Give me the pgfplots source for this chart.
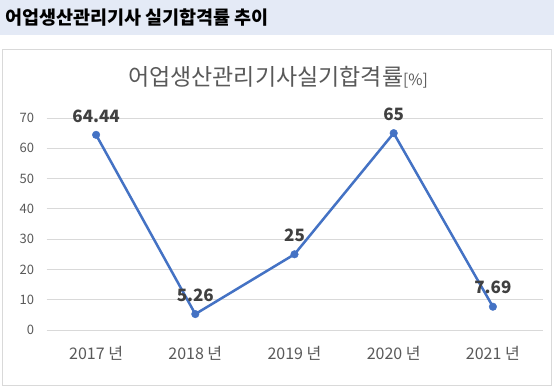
\documentclass[border=0pt]{standalone}
\usepackage{fontspec}
\setmainfont{Noto Sans CJK KR}
\usepackage{pgfplots}
\pgfplotsset{compat=1.18}
\definecolor{hdr}{HTML}{E4EAF6}
\definecolor{ln}{HTML}{4472C4}
\definecolor{txt}{HTML}{595959}
\definecolor{lbl}{HTML}{404040}
\definecolor{grd}{HTML}{D9D9D9}
\begin{document}
\begin{tikzpicture}[x=1pt,y=1pt]
\fill[white] (0,0) rectangle (554,-389);
\fill[hdr] (0,0) rectangle (554,-35);
\node[anchor=west,inner sep=0pt,font=\fontsize{18.5}{22}\selectfont\bfseries] at (5,-18) {어업생산관리기사 실기합격률 추이};
\draw[grd, line width=0.8pt] (2.5,-49.5) rectangle (551.5,-385.5);
\node[text=txt, inner sep=0pt, font=\fontsize{23}{27}\selectfont] at (278,-77) {어업생산관리기사실기합격률{\fontsize{15.5}{18}\selectfont[\%]}};
\begin{axis}[
  at={(46.5pt,-330pt)}, anchor=south west,
  scale only axis, width=496pt, height=212pt,
  xmin=-0.5, xmax=4.5, ymin=0, ymax=70,
  ytick={0,10,...,70},
  xtick={0,1,2,3,4},
  xticklabels={2017 년,2018 년,2019 년,2020 년,2021 년},
  axis line style={draw=none},
  ymajorgrids, grid style={grd, line width=0.8pt},
  major tick length=0pt,
  /pgf/number format/assume math mode=true,
  tick label style={text=txt},
  yticklabel style={font=\fontsize{13}{15}\selectfont, xshift=-9pt},
  xticklabel style={font=\fontsize{16}{18}\selectfont, yshift=-13pt},
  clip=false,
  nodes near coords,
  nodes near coords style={font=\fontsize{17}{19}\selectfont\bfseries, text=lbl, anchor=center, yshift=19pt},
]
\addplot[color=ln, line width=2.5pt, mark=*, mark size=3.8pt, mark options={solid, fill=ln, draw=ln, line width=0.4pt}] coordinates {
(0,64.44) (1,5.26) (2,25) (3,65) (4,7.69)
};
\end{axis}
\end{tikzpicture}
\end{document}
